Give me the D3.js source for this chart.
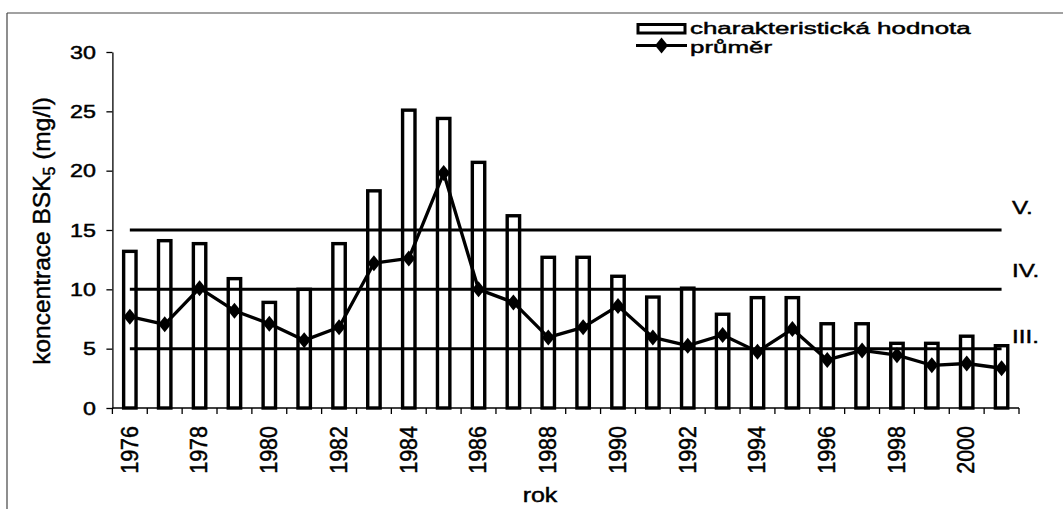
<!DOCTYPE html>
<html>
<head>
<meta charset="utf-8">
<script src="https://cdn.jsdelivr.net/npm/d3@7"></script>
<style>
  html, body { margin: 0; padding: 0; background: #fff; }
  svg { display: block; }
  text { font-family: "Liberation Sans", Arial, Helvetica, sans-serif; fill: #000; stroke: #000; stroke-width: 0.45px; }
</style>
</head>
<body>
<svg id="chart" width="1063" height="509"></svg>
<script>
// ---- data ----
const years = [1976, 1977, 1978, 1979, 1980, 1981, 1982, 1983, 1984, 1985, 1986, 1987, 1988,
               1989, 1990, 1991, 1992, 1993, 1994, 1995, 1996, 1997, 1998, 1999, 2000, 2001];
const charValues = [13.2, 14.1, 13.85, 10.9, 8.9, 10.0, 13.85, 18.3, 25.1, 24.4, 20.7, 16.2, 12.7,
                    12.7, 11.1, 9.35, 10.1, 7.9, 9.3, 9.3, 7.1, 7.1, 5.45, 5.45, 6.05, 5.25];
const meanValues = [7.7, 7.05, 10.1, 8.2, 7.1, 5.7, 6.8, 12.2, 12.6, 19.8, 10.0, 8.9, 5.95,
                    6.8, 8.6, 5.95, 5.25, 6.15, 4.75, 6.65, 4.05, 4.85, 4.45, 3.6, 3.75, 3.35];
const yTicks = [0, 5, 10, 15, 20, 25, 30];
const xTickYears = [1976, 1978, 1980, 1982, 1984, 1986, 1988, 1990, 1992, 1994, 1996, 1998, 2000];
const classLevels = [15, 10, 5];
const classLabels = ["V.", "IV.", "III."];
const legendLabels = ["charakteristická hodnota", "průměr"];
const yTitle = ["koncentrace BSK", "5", " (mg/l)"];
const xTitle = "rok";

// ---- layout ----
const svg = d3.select("#chart");
const X0 = 112.4, X1 = 1019, Y0 = 408, Y1 = 52;

const x = d3.scaleBand().domain(years).range([X0, X1]).padding(0);
const y = d3.scaleLinear().domain([0, 30]).range([Y0, Y1]);

function stretchedText(parent, px, py, sx, size, str, anchor) {
  return parent.append("text")
    .attr("transform", `translate(${px},${py}) scale(${sx},1)`)
    .attr("font-size", size)
    .attr("text-anchor", anchor || "start")
    .text(str);
}

// frame (partial, as in the scan)
svg.append("line").attr("x1", 7).attr("y1", 13).attr("x2", 1063).attr("y2", 13)
  .attr("stroke", "#444").attr("stroke-width", 1.2);
svg.append("line").attr("x1", 7).attr("y1", 13).attr("x2", 7).attr("y2", 509)
  .attr("stroke", "#444").attr("stroke-width", 1.2);

// bars
svg.append("g").selectAll("rect")
  .data(years.map((yr, i) => ({ yr, v: charValues[i] })))
  .join("rect")
  .attr("x", d => x(d.yr) + x.bandwidth() / 2 - 6.2)
  .attr("width", 12.4)
  .attr("y", d => y(d.v))
  .attr("height", d => y(0) - y(d.v))
  .attr("fill", "#fff")
  .attr("stroke", "#000")
  .attr("stroke-width", 3.4);

// class limit lines
const gClass = svg.append("g");
classLevels.forEach((lv, i) => {
  gClass.append("line")
    .attr("x1", x(years[0]) + x.bandwidth() / 2)
    .attr("x2", x(years[years.length - 1]) + x.bandwidth() / 2)
    .attr("y1", y(lv)).attr("y2", y(lv))
    .attr("stroke", "#000").attr("stroke-width", 3);
});
const classLabelY = [213.5, 276.5, 342.5];
classLabels.forEach((lb, i) => {
  stretchedText(gClass, 1012, classLabelY[i], 1.3, 18.6, lb);
});

// mean line
const line = d3.line()
  .x((d, i) => x(years[i]) + x.bandwidth() / 2)
  .y(d => y(d));
svg.append("path").datum(meanValues)
  .attr("d", line)
  .attr("fill", "none").attr("stroke", "#000").attr("stroke-width", 3.3)
  .attr("stroke-linejoin", "round");
const diamond = "M0,-8L6.5,0L0,8L-6.5,0Z";
svg.append("g").selectAll("path")
  .data(meanValues)
  .join("path")
  .attr("d", diamond)
  .attr("transform", (d, i) => `translate(${x(years[i]) + x.bandwidth() / 2},${y(d)})`)
  .attr("fill", "#000");

// y axis
const gy = svg.append("g").attr("transform", `translate(${X0},0)`)
  .call(d3.axisLeft(y).tickValues(yTicks).tickSize(6).tickSizeOuter(0));
gy.select(".domain").attr("stroke", "#000").attr("stroke-width", 1.3);
gy.selectAll(".tick line").attr("stroke", "#000").attr("stroke-width", 1.3);
gy.selectAll(".tick text").remove();
gy.selectAll(".tick").each(function(d) {
  d3.select(this).append("text")
    .attr("transform", `translate(-16.5,6.3) scale(1.33,1)`)
    .attr("font-size", 17.5)
    .attr("text-anchor", "end")
    .text(d);
});

// x axis
const boundaries = years.map(yr => x(yr)).concat([X1]);
const gx = svg.append("g");
gx.append("line").attr("x1", X0).attr("x2", X1).attr("y1", Y0).attr("y2", Y0)
  .attr("stroke", "#000").attr("stroke-width", 1.3);
gx.selectAll("line.tk").data(boundaries).join("line").attr("class", "tk")
  .attr("x1", d => d).attr("x2", d => d).attr("y1", Y0).attr("y2", Y0 + 6)
  .attr("stroke", "#000").attr("stroke-width", 1.3);
gx.selectAll("text").data(xTickYears).join("text")
  .attr("transform", d => `translate(${x(d) + x.bandwidth() / 2 + 7.8},426) scale(1.08,1) rotate(-90)`)
  .attr("font-size", 21.5)
  .attr("text-anchor", "end")
  .text(d => d);

// axis titles
const yt = svg.append("text")
  .attr("transform", `translate(50,231) rotate(-90)`)
  .attr("font-size", 24.5)
  .attr("text-anchor", "middle");
yt.append("tspan").text(yTitle[0]);
yt.append("tspan").attr("font-size", 16).attr("dy", 5).text(yTitle[1]);
yt.append("tspan").attr("dy", -5).text(yTitle[2]);

stretchedText(svg, 540, 502, 1.22, 20.5, xTitle, "middle");

// legend
const lg = svg.append("g");
lg.append("rect").attr("x", 638).attr("y", 24.5).attr("width", 47).attr("height", 8.5)
  .attr("fill", "#fff").attr("stroke", "#000").attr("stroke-width", 3);
stretchedText(lg, 690, 34, 1.58, 16.4, legendLabels[0]);
lg.append("line").attr("x1", 636).attr("x2", 687).attr("y1", 45.5).attr("y2", 45.5)
  .attr("stroke", "#000").attr("stroke-width", 3);
lg.append("path").attr("d", diamond).attr("transform", "translate(661.5,45.5)").attr("fill", "#000");
stretchedText(lg, 690, 52.5, 1.58, 16.4, legendLabels[1]);
</script>
</body>
</html>
